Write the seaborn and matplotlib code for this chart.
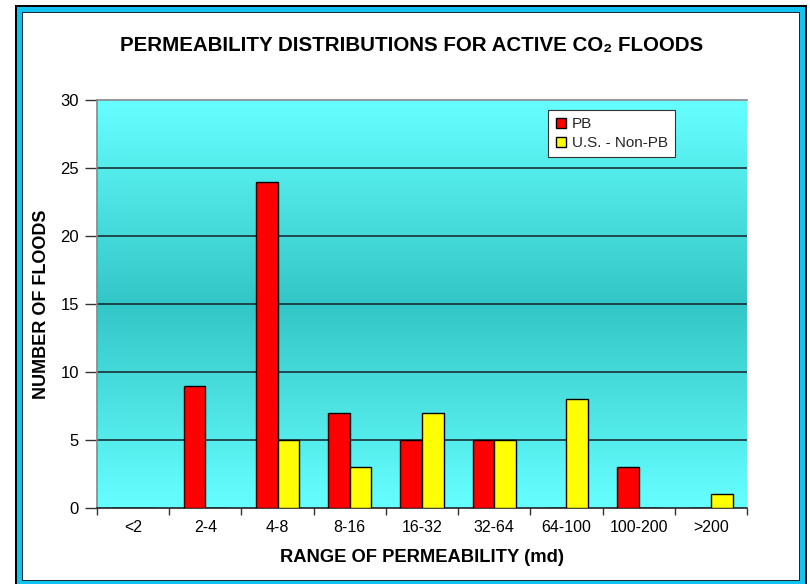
import numpy as np
import pandas as pd
import matplotlib
matplotlib.use('Agg')
import matplotlib.pyplot as plt
import seaborn as sns
from matplotlib.patches import Rectangle
from matplotlib.lines import Line2D
from matplotlib.colors import to_rgb

categories = ['<2', '2-4', '4-8', '8-16', '16-32', '32-64', '64-100', '100-200', '>200']
pb = [0, 9, 24, 7, 5, 5, 0, 3, 0]
non_pb = [0, 0, 5, 3, 7, 5, 8, 0, 1]
series = ['PB', 'U.S. - Non-PB']
colors = ['#FF0000', '#FFFF00']
yticks = [0, 5, 10, 15, 20, 25, 30]

sns.set_theme(style='white')
plt.rcParams['font.family'] = ['Liberation Sans', 'DejaVu Sans']

df = pd.DataFrame({
    'range': categories * 2,
    'count': pb + non_pb,
    'series': [series[0]] * len(categories) + [series[1]] * len(categories),
})

W, H = 810, 584
fig = plt.figure(figsize=(W / 100, H / 100), dpi=100)
fig.patch.set_facecolor('white')

def px_rect(x0, y0, x1, y1, **kw):
    return Rectangle((x0 / W, 1 - y1 / H), (x1 - x0) / W, (y1 - y0) / H,
                     transform=fig.transFigure, **kw)

fig.patches.append(px_rect(15, 5, 807, 600, facecolor='black', edgecolor='none', zorder=-10))
fig.patches.append(px_rect(17, 7, 805, 600, facecolor='#12C3F2', edgecolor='none', zorder=-9))
fig.patches.append(px_rect(22, 12, 800, 581, facecolor='#1a2a3a', edgecolor='none', zorder=-8))
fig.patches.append(px_rect(23, 13, 799, 580, facecolor='white', edgecolor='none', zorder=-7))

ax = fig.add_axes([97 / W, 1 - 508 / H, 650 / W, 408 / H])
ax.set_facecolor('none')

# gradient background
light = np.array(to_rgb('#66FFFF'))
dark = np.array(to_rgb('#33C6C6'))
t = np.linspace(0, 1, 256)
w = np.abs(t - 0.5) * 2
grad = dark[None, :] + (light - dark)[None, :] * w[:, None]
img = np.repeat(grad[:, None, :], 2, axis=1)
ax.imshow(img, extent=[0, 1, 0, 1], transform=ax.transAxes, aspect='auto',
          origin='lower', zorder=0, interpolation='bilinear')

for y in yticks[1:-1]:
    ax.axhline(y, color='#15202a', lw=1.1, zorder=1)

sns.barplot(data=df, x='range', y='count', hue='series', palette=colors,
            width=0.6, edgecolor='black', linewidth=1.0, saturation=1,
            ax=ax, zorder=3, legend=False)

ax.set_xlim(-0.5, len(categories) - 0.5)
ax.set_ylim(0, 30)
ax.set_yticks(yticks)
ax.set_yticklabels([str(v) for v in yticks])
ax.set_xticks(range(len(categories)))
ax.set_xticklabels(categories)
ax.set_xticks(np.arange(-0.5, len(categories), 1), minor=True)
ax.tick_params(axis='x', which='major', length=0, pad=9, labelsize=11.5, colors='black')
ax.tick_params(axis='x', which='minor', length=5, width=1, color='#333333', direction='out', bottom=True)
ax.tick_params(axis='y', which='major', length=9, width=1, color='#333333', pad=4,
               labelsize=12, direction='out', left=True, labelcolor='black')
ax.set_xlabel('')
ax.set_ylabel('')

for s in ['right']:
    ax.spines[s].set_visible(False)
ax.spines['left'].set_color('#888888')
ax.spines['top'].set_color('#888888')
ax.spines['bottom'].set_color('#222222')
for s in ['left', 'top', 'bottom']:
    ax.spines[s].set_linewidth(1.2)

handles = [Line2D([0], [0], marker='s', linestyle='none', markersize=7.5,
                  markerfacecolor=c, markeredgecolor='black', markeredgewidth=1)
           for c in colors]
leg = ax.legend(handles, series, loc='upper left', bbox_to_anchor=((548 - 97) / 650, (508 - 110) / 408),
                borderaxespad=0, frameon=True, fancybox=False, framealpha=1,
                edgecolor='#333333', fontsize=11, handlelength=0.8, handletextpad=0.3,
                labelspacing=0.35, borderpad=0.45)
leg.get_frame().set_linewidth(0.8)
leg.set_zorder(5)

fig.text(412 / W, 1 - 45 / H, 'PERMEABILITY DISTRIBUTIONS FOR ACTIVE CO\u2082 FLOODS',
         ha='center', va='center', fontsize=14.8, fontweight='bold', color='black')
fig.text(42 / W, 1 - 304 / H, 'NUMBER OF FLOODS', rotation=90, ha='center', va='center',
         fontsize=13, fontweight='bold', color='black')
fig.text(422 / W, 1 - 557 / H, 'RANGE OF PERMEABILITY (md)', ha='center', va='center',
         fontsize=13.2, fontweight='bold', color='black')

fig.savefig('out.png', dpi=100)
